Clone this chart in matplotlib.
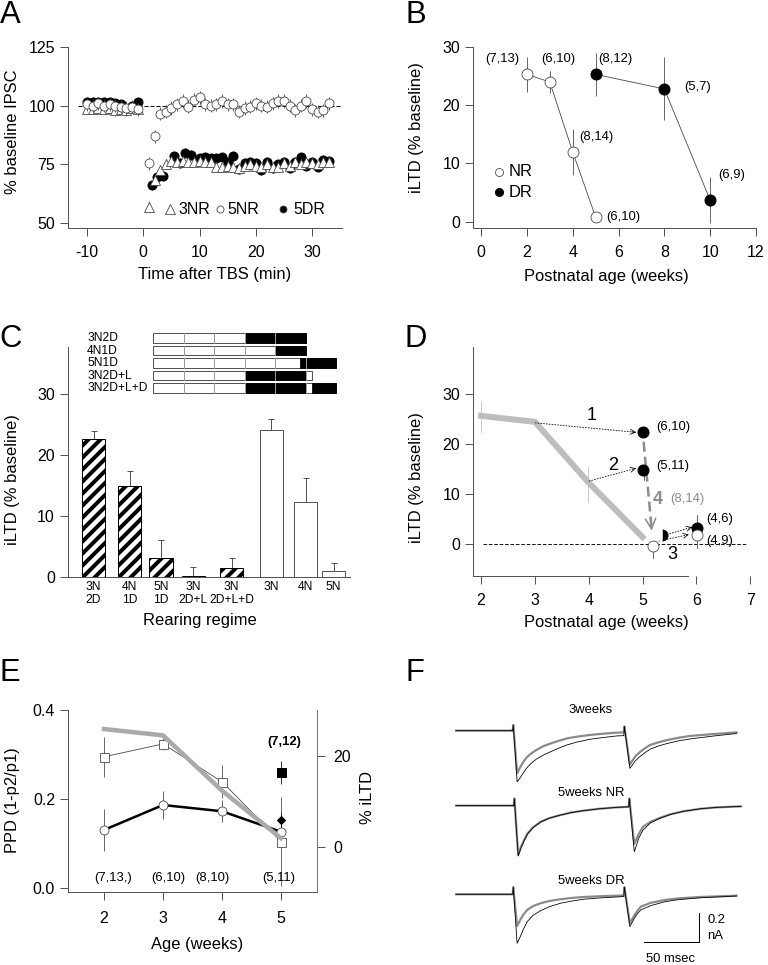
import matplotlib
matplotlib.use('Agg')
import matplotlib.pyplot as plt
from matplotlib.patches import Rectangle

plt.rcParams['font.family'] = ['Liberation Sans', 'DejaVu Sans']
plt.rcParams['hatch.linewidth'] = 4.0

W, H, DPI = 768, 965, 72
AX_COLOR = '#555555'
LINE_GRAY = '#bdbdbd'
FS_TICK, FS_LAB, FS_ANN, FS_PANEL = 16, 16.5, 13, 31

# ---------------- data ----------------
# A: time course (% baseline IPSC)
a_t_pre = [-10, -9, -8, -7, -6, -5, -4, -3, -2, -1]
a_t_post = list(range(1, 34))
nr5_pre = [100.5, 100, 101, 100, 100.5, 100, 99.5, 99, 99.5, 98.5]
nr5_post = [75.5, 87, 96.5, 97.5, 99, 100.5, 102, 99.5, 102.5, 103.5, 100.5, 100, 100.5,
            102, 100.5, 100.5, 97.5, 99, 99.5, 101, 100, 99.5, 101, 102, 102, 100, 98, 100,
            102, 98.5, 97.5, 98, 101]
nr3_pre = [98.5, 98.5, 99, 98.5, 99, 98, 98.5, 98, 99, 98.5]
nr3_post = [57, 68.5, 72.5, 75, 76.5, 76, 76.5, 76, 76, 76.5, 76, 76, 74, 74, 74.5, 74,
            73.5, 74.5, 75, 74.5, 74, 75, 74, 74, 75.5, 74.5, 76, 75, 76, 75.5, 75, 76, 76]
dr5_pre = [101.5, 101.5, 101.5, 101.5, 101.5, 101, 100.5, 98, 100, 101.5]
dr5_t_post = [1.5, 2.5, 3.5, 5.5, 6.5, 7.5, 8.5, 10, 11, 12, 13, 14, 15, 16, 17, 18, 19,
              20, 21, 22, 23, 24, 25, 26, 27, 28, 29, 30, 31, 32, 33]
dr5_post = [66, 69.5, 70, 78.5, 75.5, 80, 79, 77.5, 78, 77.5, 77.5, 78, 76, 78.5, 73, 75.5,
            76, 75.5, 72.5, 76, 73.5, 75, 76, 73.5, 76, 78, 74.5, 76, 74, 77, 76.5]
nr5_err, nr3_err, dr5_err = 2.8, 2.2, 2.0

# B: iLTD vs age
b_nr_age = [2, 3, 4, 5]
b_nr_val = [25.3, 24.0, 12.0, 0.8]
b_nr_err = [3.0, 1.9, 4.0, 0.0]
b_nr_n = ['(7,13)', '(6,10)', '(8,14)', '(6,10)']
b_dr_age = [5, 8, 10]
b_dr_val = [25.3, 22.8, 3.7]
b_dr_err = [3.7, 5.4, 4.0]
b_dr_n = ['(8,12)', '(5,7)', '(6,9)']

# C: rearing regimes
c_labels = ['3N\n2D', '4N\n1D', '5N\n1D', '3N\n2D+L', '3N\n2D+L+D', '3N', '4N', '5N']
c_vals = [22.6, 15.0, 3.2, 0.2, 1.4, 24.2, 12.3, 1.05]
c_err = [1.4, 2.5, 2.8, 1.45, 1.7, 1.8, 4.0, 1.25]
c_dark = [True, True, True, True, True, False, False, False]
sched_names = ['3N2D', '4N1D', '5N1D', '3N2D+L', '3N2D+L+D']
sched_end = [5, 5, 6, 5.2, 6]
sched_dark = [[(3, 5)], [(4, 5)], [(4.82, 6)], [(3, 5)], [(3, 5), (5.2, 6)]]

# D
d_ages = [2, 3, 4, 5]
d_nr = [25.7, 24.5, 12.3, 1.4]
d_dr1 = 22.4      # 1: (6,10)
d_dr2 = 14.9      # 2: (5,11)
d_back_dark = 1.9
d_back_open = -0.35
d_6_dark = 3.2
d_6_open = 1.9

# E
e_ages = [2, 3, 4, 5]
e_sq = [0.295, 0.324, 0.239, 0.105]
e_sq_err = [0.045, 0.013, 0.037, 0.10]
e_circ = [0.131, 0.187, 0.173, 0.127]
e_circ_err = [0.046, 0.032, 0.025, 0.02]
e_ltd = [26.0, 24.6, 12.4, 1.9]
e_dr_sq, e_dr_sq_err = 0.26, 0.025
e_dr_dia, e_dr_dia_err = 0.153, 0.016
e_n = ['(7,13,)', '(6,10)', '(8,10)', '(5,11)']

# F: example traces (ms, nA)
t3 = [-52, -0.5, 0, 3.5, 6, 9, 12, 16, 21, 27, 34, 41, 49, 58, 70, 82, 94, 100.5, 101,
      106, 108, 111, 115.5, 120, 124.5, 132, 140, 150, 161, 185, 203]
g3 = [0, 0, 0.04, -0.30, -0.262, -0.222, -0.19, -0.162, -0.136, -0.11, -0.09, -0.072,
      -0.054, -0.042, -0.03, -0.021, -0.014, -0.012, 0.03, -0.24, -0.215, -0.18, -0.148,
      -0.122, -0.10, -0.082, -0.066, -0.05, -0.037, -0.022, -0.012]
k3 = [0, 0, 0.04, -0.36, -0.335, -0.298, -0.265, -0.232, -0.20, -0.173, -0.148, -0.124,
      -0.10, -0.08, -0.06, -0.048, -0.037, -0.035, 0.03, -0.265, -0.245, -0.212, -0.18,
      -0.153, -0.13, -0.108, -0.09, -0.072, -0.058, -0.035, -0.02]
tn = [-52, 0.5, 1, 4.5, 7, 10, 13, 18, 25, 33, 43, 53, 64, 78, 94, 105, 105.5, 110, 112,
      114, 118, 125, 133, 143, 154.5, 170, 185, 207]
gn = [0, 0, 0.05, -0.345, -0.29, -0.24, -0.195, -0.152, -0.113, -0.087, -0.066, -0.048,
      -0.035, -0.022, -0.012, -0.008, 0.05, -0.27, -0.235, -0.20, -0.148, -0.113, -0.087,
      -0.06, -0.04, -0.022, -0.012, -0.005]
kn = [0, 0, 0.05, -0.355, -0.30, -0.245, -0.20, -0.155, -0.115, -0.088, -0.066, -0.048,
      -0.035, -0.022, -0.012, -0.008, 0.05, -0.324, -0.28, -0.23, -0.171, -0.12, -0.09,
      -0.062, -0.04, -0.022, -0.012, -0.005]
td = [-52, -0.5, 0, 3.5, 6, 9, 12.7, 18, 25, 33, 43, 53, 64, 78, 94, 100.5, 101, 106, 108,
      110, 113, 116, 125, 138, 150, 170, 203]
gd = [0, 0, 0.05, -0.223, -0.185, -0.145, -0.11, -0.083, -0.063, -0.047, -0.035, -0.026,
      -0.019, -0.014, -0.01, -0.008, 0.05, -0.204, -0.178, -0.15, -0.115, -0.087, -0.06,
      -0.04, -0.029, -0.019, -0.01]
kd = [0, 0, 0.05, -0.345, -0.305, -0.25, -0.193, -0.148, -0.115, -0.087, -0.063, -0.048,
      -0.035, -0.026, -0.019, -0.016, 0.05, -0.228, -0.20, -0.17, -0.135, -0.11, -0.08,
      -0.052, -0.038, -0.025, -0.012]


# ---------------- helpers ----------------
def box(l, t, r, b):
    return [l / W, 1 - b / H, (r - l) / W, (b - t) / H]


def ftext(x, y, s, **kw):
    kw.setdefault('ha', 'center')
    kw.setdefault('va', 'center')
    fig.text(x / W, 1 - y / H, s, **kw)


def style(ax, xpad=9, ypad=5):
    for s in ['top', 'right']:
        ax.spines[s].set_visible(False)
    for s in ax.spines.values():
        s.set_color(AX_COLOR)
        s.set_linewidth(1)
    ax.tick_params(direction='out', length=8, width=1, color=AX_COLOR, labelsize=FS_TICK)
    ax.tick_params(axis='x', pad=xpad)
    ax.tick_params(axis='y', pad=ypad)
    ax.patch.set_alpha(0)


def arrow_head(ax, x0, y0, x1, y1, color='black', lw=0.8, ms=12):
    f = 0.04
    ax.annotate('', xy=(x1, y1), xytext=(x1 - f * (x1 - x0), y1 - f * (y1 - y0)),
                arrowprops=dict(arrowstyle='->', color=color, lw=lw,
                                mutation_scale=ms, shrinkA=0, shrinkB=0))


fig = plt.figure(figsize=(W / DPI, H / DPI), dpi=DPI)
fig.patch.set_facecolor('white')

# ---------------- A ----------------
ax = fig.add_axes(box(68, 47, 342, 228))
style(ax)
ax.set_xlim(-13.38, 35.33)
ax.set_ylim(47.87, 125)
ax.axhline(100, xmin=0.035, xmax=1.0, color='black', lw=1, ls=(0, (4, 2)), zorder=1)
ax.errorbar(a_t_pre + dr5_t_post, dr5_pre + dr5_post, yerr=dr5_err, fmt='o', ms=9,
            mfc='black', mec='black', ecolor='#444444', elinewidth=0.8, zorder=2)
ax.errorbar(a_t_pre + a_t_post, nr3_pre + nr3_post, yerr=nr3_err, fmt='^', ms=10,
            mfc='white', mec='#444444', mew=0.8, ecolor='#444444', elinewidth=0.8, zorder=3)
ax.errorbar(a_t_pre + a_t_post, nr5_pre + nr5_post, yerr=nr5_err, fmt='o', ms=9,
            mfc='white', mec='#444444', mew=0.8, ecolor='#444444', elinewidth=0.8, zorder=4)
ax.set_xticks([-10, 0, 10, 20, 30])
ax.set_yticks([50, 75, 100, 125])
ax.set_xticklabels(['-10', '0', '10', '20', '30'])
# legend
for px, mk, fc, ms, label, tx in [(170, '^', 'white', 10, '3NR', 178),
                                  (220, 'o', 'white', 7, '5NR', 227),
                                  (283, 'o', 'black', 7, '5DR', 293)]:
    fig.lines.append(plt.Line2D([px / W], [1 - 209 / H], marker=mk, ms=ms, mfc=fc,
                                mec='#444444', mew=0.8, transform=fig.transFigure))
    ftext(tx, 210, label, ha='left', fontsize=FS_TICK)
ftext(13, 132, '% baseline IPSC', rotation=90, fontsize=FS_LAB)
ftext(215, 275, 'Time after TBS (min)', fontsize=FS_LAB)
ftext(10, 15, 'A', fontsize=FS_PANEL)

# ---------------- B ----------------
ax = fig.add_axes(box(473, 47, 756, 228))
style(ax)
ax.set_xlim(-0.35, 12)
ax.set_ylim(-1.08, 30)
ax.errorbar(b_nr_age, b_nr_val, yerr=b_nr_err, fmt='-o', color='#444444', lw=0.8, ms=11,
            mfc='white', mec='#444444', mew=0.8, elinewidth=0.8, clip_on=False)
ax.errorbar(b_dr_age, b_dr_val, yerr=b_dr_err, fmt='-o', color='#444444', lw=0.8, ms=11,
            mfc='black', mec='black', elinewidth=0.8, clip_on=False)
b_lab_pos = [(0.93, 28.0), (3.36, 28.0), (5.05, 14.6), (6.21, 0.86)]
for (x, y), s in zip(b_lab_pos, b_nr_n):
    ax.text(x, y, s, fontsize=FS_ANN, ha='center', va='center')
b_lab_pos_dr = [(5.88, 28.0), (9.47, 23.2), (10.94, 8.0)]
for (x, y), s in zip(b_lab_pos_dr, b_dr_n):
    ax.text(x, y, s, fontsize=FS_ANN, ha='center', va='center')
ax.plot([0.79], [8.6], 'o', ms=8, mfc='white', mec='#444444', mew=0.8)
ax.plot([0.79], [5.1], 'o', ms=8, mfc='black', mec='black')
ax.text(1.2, 8.6, 'NR', fontsize=FS_LAB, va='center')
ax.text(1.2, 5.1, 'DR', fontsize=FS_LAB, va='center')
ax.set_xticks(range(0, 13, 2))
ax.set_yticks([0, 10, 20, 30])
ftext(417, 128, 'iLTD (% baseline)', rotation=90, fontsize=FS_LAB)
ftext(606, 276, 'Postnatal age (weeks)', fontsize=FS_LAB)
ftext(416, 15, 'B', fontsize=FS_PANEL)

# ---------------- C ----------------
ax = fig.add_axes(box(68, 347, 350, 577))
style(ax)
ax.set_xlim(0, 9.4)
ax.set_ylim(0, 37.8)
c_pos = [0.85, 2.05, 3.1, 4.17, 5.45, 6.78, 7.92, 8.85]
for x, v, e, dark in zip(c_pos, c_vals, c_err, c_dark):
    ax.bar(x, v, width=0.77, color='white', edgecolor='black' if dark else '#555555',
           lw=1, hatch='//' if dark else None, zorder=2)
    ax.errorbar(x, v, yerr=[[0], [e]], fmt='none', ecolor='#444444', elinewidth=0.9,
                capsize=3, capthick=0.9, zorder=1)
ax.set_xticks(c_pos)
ax.set_xticklabels(c_labels, fontsize=12, linespacing=1.15)
ax.tick_params(axis='x', length=0, pad=4)
ax.set_yticks([0, 10, 20, 30])
ftext(13, 480, 'iLTD (% baseline)', rotation=90, fontsize=FS_LAB)
ftext(200, 621, 'Rearing regime', fontsize=FS_LAB)
ftext(11, 339, 'C', fontsize=FS_PANEL)

# schedule schematic
sx = fig.add_axes(box(153, 333, 337, 394))
sx.set_xlim(0, 6.03)
sx.set_ylim(4.48, -0.4)
sx.axis('off')
for i, (name, end, dark) in enumerate(zip(sched_names, sched_end, sched_dark)):
    sx.add_patch(Rectangle((0, i - 0.38), end, 0.76, fc='white', ec='#555555', lw=1))
    for a, b in dark:
        sx.add_patch(Rectangle((a, i - 0.38), b - a, 0.76, fc='black', ec='black', lw=0.8))
    for wk in range(1, int(end) + 1):
        if wk < end:
            sx.plot([wk, wk], [i - 0.38, i + 0.38], color='#999999', lw=1)
    ftext(87, 338 + 12.6 * i, name, ha='left', fontsize=12)

# ---------------- D ----------------
ax = fig.add_axes(box(473, 347, 755, 576))
style(ax)
ax.set_xlim(1.85, 7.09)
ax.set_ylim(-6.4, 39.5)
ax.spines['bottom'].set_bounds(1.85, 5.85)
ax.set_xticks([2, 3, 4, 5, 6, 7])
ax.set_yticks([0, 10, 20, 30])
ax.plot([2.04, 6.95], [0, 0], color='black', lw=0.9, ls=(0, (4, 2)), zorder=1)
ax.plot(d_ages, d_nr, color=LINE_GRAY, lw=6, solid_joinstyle='miter', zorder=2)
ax.plot([2, 2], [22.4, 28.4], color=LINE_GRAY, lw=0.8)
ax.plot([3.99, 3.99], [8.4, 15.4], color=LINE_GRAY, lw=0.8)
dot = (0, (2, 1.5))
ax.plot([3, 4.88], [d_nr[1] - 0.2, d_dr1], color='black', lw=0.8, ls=dot)
arrow_head(ax, 3, d_nr[1] - 0.2, 4.88, d_dr1)
ax.plot([4, 4.88], [d_nr[2] + 0.3, d_dr2 + 0.3], color='black', lw=0.8, ls=dot)
arrow_head(ax, 4, d_nr[2] + 0.3, 4.88, d_dr2 + 0.3)
ax.plot([5.02, 5.02], [d_dr2 - 2, d_dr2], color='#444444', lw=0.8)
ax.plot([5.02, 5.17], [20.5, 3.0], color='#8c8c8c', lw=2.5, ls=(0, (4, 2)), zorder=3)
arrow_head(ax, 5.02, 20.5, 5.17, 2.7, color='#8c8c8c', lw=1.5, ms=26)
ax.plot([5], [d_dr1], 'o', ms=11, color='black', zorder=5)
ax.plot([5], [d_dr2], 'o', ms=11, color='black', zorder=5)
ax.plot([5.2, 5.2], [-2.8, d_back_open], color='#444444', lw=0.8)
ax.plot([5.2], [d_back_open], 'o', ms=11, mfc='white', mec='#444444', mew=0.8, zorder=5)
ax.plot([5.37], [d_back_dark], 'o', ms=12, fillstyle='right', mfc='black',
        mfcalt='white', mec='none', zorder=4)
ax.plot([5.45, 5.92], [1.9, 3.4], color='black', lw=0.8, ls=dot)
arrow_head(ax, 5.45, 1.9, 5.92, 3.4)
ax.plot([5.3, 5.86], [0.6, 1.9], color='black', lw=0.8, ls=dot)
arrow_head(ax, 5.3, 0.6, 5.86, 1.9)
ax.plot([6.01, 6.01], [-0.7, 5.9], color='#444444', lw=0.8)
ax.plot([6.01], [d_6_dark], 'o', ms=11, color='black', zorder=5)
ax.plot([6.01], [d_6_open], 'o', ms=11, mfc='white', mec='#444444', mew=0.8, zorder=6)
ax.text(4.05, 25.7, '1', fontsize=18, ha='center', va='center')
ax.text(4.46, 15.7, '2', fontsize=18, ha='center', va='center')
ax.text(5.56, -2.1, '3', fontsize=18, ha='center', va='center')
ax.text(5.29, 9.0, '4', fontsize=18, ha='center', va='center', color='#8c8c8c',
        fontweight='bold')
ax.text(5.83, 9.0, '(8,14)', fontsize=FS_ANN, ha='center', va='center', color='#8c8c8c')
ax.text(5.25, 23.5, '(6,10)', fontsize=FS_ANN, ha='left', va='center')
ax.text(5.25, 15.7, '(5,11)', fontsize=FS_ANN, ha='left', va='center')
ax.text(6.18, 5.1, '(4,6)', fontsize=FS_ANN, ha='left', va='center')
ax.text(6.18, 0.7, '(4,9)', fontsize=FS_ANN, ha='left', va='center')
ftext(417, 478, 'iLTD (% baseline)', rotation=90, fontsize=FS_LAB)
ftext(606, 622, 'Postnatal age (weeks)', fontsize=FS_LAB)
ftext(416, 339, 'D', fontsize=FS_PANEL)

# ---------------- E ----------------
ax = fig.add_axes(box(68, 710, 317, 892))
style(ax, xpad=11)
ax.set_xlim(1.39, 5.61)
ax.set_ylim(-0.008, 0.4)
ax.set_xticks([2, 3, 4, 5])
ax.set_yticks([0.0, 0.2, 0.4])
ax.set_yticklabels(['0.0', '0.2', '0.4'])
ax2 = ax.twinx()
ax2.set_position(box(68, 710, 317, 892))
ax2.set_ylim(-9.97, 30.2)
for s in ['top', 'left', 'bottom']:
    ax2.spines[s].set_visible(False)
ax2.spines['right'].set_color(AX_COLOR)
ax2.tick_params(direction='out', length=8, width=1, color=AX_COLOR, labelsize=FS_TICK,
                pad=8)
ax2.set_yticks([0, 20])
ax.errorbar(e_ages, e_sq, yerr=e_sq_err, fmt='-s', color='#444444', lw=0.8, ms=9,
            mfc='white', mec='#444444', mew=0.8, elinewidth=0.8, zorder=3)
ax.errorbar(e_ages, e_circ, yerr=e_circ_err, fmt='-', color='black', lw=2.5,
            ecolor='#444444', elinewidth=0.8, zorder=2)
ax.plot(e_ages, e_circ, 'o', ms=9, mfc='white', mec='#444444', mew=0.8, zorder=4)
ax2.plot(e_ages, e_ltd, color='#aaaaaa', lw=4.5, zorder=5)
ax.errorbar([5], [e_dr_sq], yerr=e_dr_sq_err, fmt='s', ms=9, color='black',
            elinewidth=0.8, zorder=6)
ax.errorbar([5], [e_dr_dia], yerr=e_dr_dia_err, fmt='D', ms=5, color='black',
            elinewidth=0.8, zorder=6)
ax.text(5.05, 0.329, '(7,12)', fontsize=FS_ANN, ha='center', va='center', fontweight='bold')
for x, s in zip([2.16, 3.09, 3.84, 4.97], e_n):
    ax.text(x, 0.023, s, fontsize=FS_ANN, ha='center', va='center')
ftext(13, 800, 'PPD (1-p2/p1)', rotation=90, fontsize=FS_LAB)
ftext(368, 798, '% iLTD', rotation=90, fontsize=FS_LAB)
ftext(197, 945, 'Age (weeks)', fontsize=FS_LAB)
ftext(10, 673, 'E', fontsize=FS_PANEL)

# ---------------- F ----------------
ax = fig.add_axes(box(440, 700, 760, 965))
ax.set_xlim(-66.6, 224.3)
ax.set_ylim(0, 1.866)
ax.axis('off')
for t, g, k, base, lbl, ly in [(t3, g3, k3, 1.650, '3weeks', 710),
                               (tn, gn, kn, 1.122, '5weeks NR', 793),
                               (td, gd, kd, 0.498, '5weeks DR', 881)]:
    ax.plot(t, [base + v for v in g], color='#8a8a8a', lw=2.2, solid_joinstyle='round')
    ax.plot(t, [base + v for v in k], color='black', lw=0.8)
    ftext(591, ly, lbl, fontsize=FS_ANN)
ax.plot([118.8, 168.8, 168.8], [0.162, 0.162, 0.366], color='black', lw=1)
ftext(707, 920, '0.2', ha='left', fontsize=FS_ANN)
ftext(707, 936, 'nA', ha='left', fontsize=FS_ANN)
ftext(671, 959, '50 msec', fontsize=FS_ANN)
ftext(415, 673, 'F', fontsize=FS_PANEL)

fig.savefig('out.png', dpi=DPI, facecolor='white')
